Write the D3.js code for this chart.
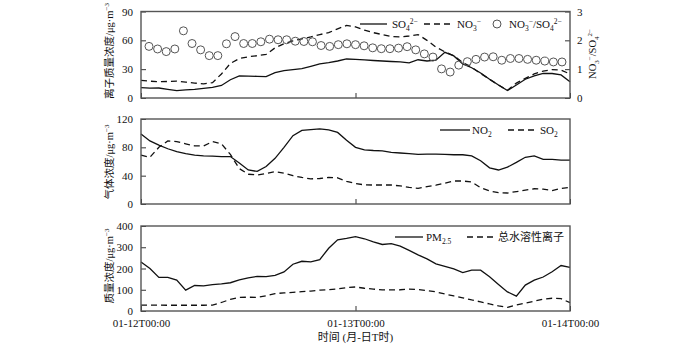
<!DOCTYPE html>
<html><head><meta charset="utf-8">
<script src="https://cdn.jsdelivr.net/npm/d3@7"></script>
<style>
body{margin:0;background:#fff}
svg{display:block}
text{font-family:'Liberation Serif','Times New Roman','Noto Sans CJK SC',serif;font-size:11px;fill:#111}
text.ylab{font-size:10.5px}
</style>
</head><body><svg id="c" width="700" height="345"></svg>
<script>
// ---- data (hourly, 01-12T00:00 .. 01-14T00:00) ----
const hourTicks = [0, 24, 48];
const hourLabels = ["01-12T00:00", "01-13T00:00", "01-14T00:00"];
const xTitle = "时间 (月-日T时)";

const so4 = [10.7,10.2,10.4,9,7.6,8.5,9,10,11,13,19,23,22.8,22.5,22.3,26.3,28.5,29.5,30.5,33,35.5,36.8,38.5,40.6,40.2,39.6,39,38.5,38,37.5,36.5,39.8,38.5,39.4,47.5,43.8,35.5,31.5,26,19.5,13.5,7.8,13.5,19.5,23,25.5,25.5,24,17];
const no3 = [18.3,17.5,16.9,17.2,17.6,16.5,15.5,14.8,16,25,36,41,42.9,44,45.3,52.2,56.5,59.5,61.5,63.5,66,68,72,75.5,74,70.5,68,66,64,63.5,64.5,66,60,53,48,44,37,32,25.5,19.5,13.5,8,15.5,20.5,25,28,29.5,29,25];
const ratio = [1.79,1.70,1.61,1.70,2.33,1.89,1.67,1.47,1.47,1.88,2.13,1.89,1.89,1.95,2.04,2.02,2.02,1.97,1.96,1.95,1.82,1.79,1.85,1.88,1.85,1.81,1.74,1.71,1.71,1.73,1.78,1.67,1.53,1.42,1.01,0.90,1.14,1.26,1.34,1.42,1.43,1.31,1.37,1.37,1.34,1.31,1.28,1.25,1.25];
const leftTicks1 = [0, 30, 60, 90];
const rightTicks1 = [0, 1, 2, 3];

const no2 = [98.8,89,83,78,74,71,69,68,67.5,67,67,58,48,46,53,64.5,80,96.5,104,105,106,104.5,101,90,80,76.5,75.5,75,73,72,71,70,70.5,70.5,70,69.5,69.5,68,61,51,48,52,58.8,66,68,63,63,62,62];
const so2 = [69,66,80,89,88,85,82,82,88,85,70,50,42,41,43,45.6,43.5,40,37.5,35.5,36,37.5,37,32,29,27,26.8,26.8,26.8,25.5,23.5,22.2,24.5,26.5,29.5,32.5,32.5,31,23,18.5,16,15.5,17.5,19.5,21.5,21,19,22,23.5];
const leftTicks2 = [0, 40, 80, 120];

const pm25 = [231,200,158,158,145,98,120,118,124,128,133,146,156,163,162,168,184,220,234,231,242,295,335,342,350,340,325,313,317,305,285,264,245,222,210,198,181,192,192,161,125,90,70,122,145,160,185,214,205];
const twsi = [28,28,28,27,27,27,27,27,28,40,55,64,65,64,72,82,85,88,91,94,98,100,104,110,113,107,103,99,99,100,103,101,96,90,80,71,62,52,43,33,24,17,28,37,46,56,60,58,39];
const leftTicks3 = [0, 100, 200, 300, 400];

const hours = so4.map((d, i) => i);

// ---- drawing ----
const svg = d3.select("#c");
const L = 141, R = 570;
const xLine = d3.scaleLinear().domain([0, 48]).range([L, R]);
const xPt = d3.scaleLinear().domain([0, 48]).range([149, 562]);

function rich(sel, segs, small) {
  let cur = 0;
  segs.forEach(([t, k]) => {
    const target = k === 'sub' ? 3 : (k === 'sup' ? -4 : 0);
    const ts = sel.append('tspan').attr('dy', target - cur).text(t);
    if (k) ts.style('font-size', small || '7.5px');
    cur = target;
  });
  return sel;
}

function styleAxis(g) {
  g.select('.domain').remove();
  g.selectAll('.tick line').attr('stroke', '#333').attr('stroke-width', 1);
  g.attr('font-family', null).attr('font-size', null);
}

function panel(top, bottom, yMax, yTicks) {
  const y = d3.scaleLinear().domain([0, yMax]).range([bottom, top]);
  const gy = svg.append('g').attr('transform', `translate(${L},0)`)
    .call(d3.axisLeft(y).tickValues(yTicks).tickFormat(d3.format('d')).tickSizeInner(-5).tickSizeOuter(0).tickPadding(8));
  styleAxis(gy);
  return y;
}

function xAxis(bottom, withLabels) {
  const g = svg.append('g').attr('transform', `translate(0,${bottom})`)
    .call(d3.axisBottom(xLine).tickValues(hourTicks).tickSizeInner(-5).tickSizeOuter(0).tickPadding(8)
      .tickFormat((d, i) => withLabels ? hourLabels[i] : ""));
  styleAxis(g);
}

function border(top, bottom) {
  svg.append('rect').attr('x', L).attr('y', top).attr('width', R - L).attr('height', bottom - top)
    .attr('fill', 'none').attr('stroke', '#555').attr('stroke-width', 1.4);
}

function drawLine(y, data, dashed) {
  svg.append('path').datum(data)
    .attr('d', d3.line().x((d, i) => xLine(hours[i])).y(d => y(d)))
    .attr('fill', 'none').attr('stroke', '#111').attr('stroke-width', 1.3)
    .attr('stroke-dasharray', dashed ? '6,4' : null);
}

function yLabel(cx, cy, segs) {
  const t = svg.append('text').attr('class', 'ylab').attr('transform', `translate(${cx},${cy}) rotate(-90)`)
    .attr('text-anchor', 'middle');
  rich(t, segs, '7px');
}

function legendLine(x1, x2, y, dashed) {
  svg.append('line').attr('x1', x1).attr('x2', x2).attr('y1', y).attr('y2', y)
    .attr('stroke', '#111').attr('stroke-width', 1.3).attr('stroke-dasharray', dashed ? '6,4' : null);
}
function legendText(x, y, segs) {
  rich(svg.append('text').attr('x', x).attr('y', y + 4), segs);
}

// Panel 1: ions
const T1 = 11.5, B1 = 98;
const y1 = panel(T1, B1, 90, leftTicks1);
const yR = d3.scaleLinear().domain([0, 3]).range([B1, T1]);
const gR = svg.append('g').attr('transform', `translate(${R},0)`)
  .call(d3.axisRight(yR).tickValues(rightTicks1).tickFormat(d3.format('d')).tickSizeInner(-5).tickSizeOuter(0).tickPadding(7));
styleAxis(gR);
xAxis(B1, false);
drawLine(y1, so4, false);
drawLine(y1, no3, true);
svg.append('g').selectAll('circle').data(ratio).join('circle')
  .attr('cx', (d, i) => xPt(hours[i])).attr('cy', d => yR(d)).attr('r', 4)
  .attr('fill', 'none').attr('stroke', '#555').attr('stroke-width', 1);
border(T1, B1);
yLabel(113, 51, [["离子质量浓度/μg·m"], ["−3", 'sup']]);
yLabel(596, 54, [["NO"], ["3", 'sub'], ["−", 'sup'], ["/SO"], ["4", 'sub'], ["2−", 'sup']]);
legendLine(360, 387, 24, false); legendText(392, 24, [["SO"], ["4", 'sub'], ["2−", 'sup']]);
legendLine(424, 453, 24, true); legendText(457, 24, [["NO"], ["3", 'sub'], ["−", 'sup']]);
svg.append('circle').attr('cx', 497).attr('cy', 24).attr('r', 4).attr('fill', 'none').attr('stroke', '#555');
legendText(509, 24, [["NO"], ["3", 'sub'], ["−", 'sup'], ["/SO"], ["4", 'sub'], ["2−", 'sup']]);

// Panel 2: gases
const T2 = 119, B2 = 204;
const y2 = panel(T2, B2, 120, leftTicks2);
xAxis(B2, false);
drawLine(y2, no2, false);
drawLine(y2, so2, true);
border(T2, B2);
yLabel(113, 162, [["气体浓度/μg·m"], ["−3", 'sup']]);
legendLine(440, 470, 130, false); legendText(472, 130, [["NO"], ["2", 'sub']]);
legendLine(508, 536, 130, true); legendText(540, 130, [["SO"], ["2", 'sub']]);

// Panel 3: PM2.5
const T3 = 226, B3 = 311;
const y3 = panel(T3, B3, 400, leftTicks3);
xAxis(B3, true);
drawLine(y3, pm25, false);
drawLine(y3, twsi, true);
border(T3, B3);
yLabel(113, 266, [["质量浓度/μg·m"], ["−3", 'sup']]);
legendLine(395, 423, 237, false); legendText(426, 237, [["PM"], ["2.5", 'sub']]);
legendLine(467, 494, 237, true); legendText(498, 237, [["总水溶性离子"]]);

svg.append('text').attr('x', (L + R) / 2).attr('y', 341).attr('text-anchor', 'middle').text(xTitle);
</script>
</body></html>
